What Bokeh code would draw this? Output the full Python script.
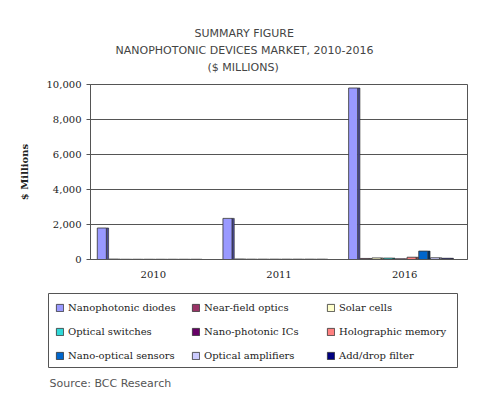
from bokeh.plotting import figure
from bokeh.models import (FactorRange, Legend, LegendItem, Title, Label, SingleIntervalTicker,
                          NumeralTickFormatter, ColumnDataSource, Range1d, BoxAnnotation)
from bokeh.transform import dodge
from bokeh.embed import file_html
from bokeh.resources import INLINE

years = ["2010", "2011", "2016"]
series = ["Nanophotonic diodes", "Near-field optics", "Solar cells",
          "Optical switches", "Nano-photonic ICs", "Holographic memory",
          "Nano-optical sensors", "Optical amplifiers", "Add/drop filter"]
colors = ["#9999FF", "#993366", "#FFFFCC", "#2FD8D8", "#660066", "#FF8080",
          "#0066CC", "#CCCCFF", "#000080"]
sides = ["#4d4d99", "#4d1a33", "#99997a", "#1a7a7a", "#330033", "#994d4d",
         "#003366", "#7a7a99", "#000040"]
values = {
    "Nanophotonic diodes": [1800, 2350, 9800],
    "Near-field optics": [25, 30, 60],
    "Solar cells": [15, 20, 90],
    "Optical switches": [15, 20, 80],
    "Nano-photonic ICs": [15, 20, 40],
    "Holographic memory": [15, 20, 130],
    "Nano-optical sensors": [15, 20, 480],
    "Optical amplifiers": [15, 20, 100],
    "Add/drop filter": [15, 20, 70],
}
title_lines = ["SUMMARY FIGURE", "NANOPHOTONIC DEVICES MARKET, 2010-2016", "($ MILLIONS)"]
title_offsets = [104, 25, 117]
title_standoffs = [4, 0, 5]
source_text = "Source: BCC Research"

p = figure(x_range=FactorRange(*years), y_range=(0, 10000), width=500, height=290,
           output_backend="svg", toolbar_location=None, title=None,
           min_border_left=90, min_border_right=33, min_border_top=84, min_border_bottom=31)
p.background_fill_color = "white"
p.border_fill_color = "white"
p.outline_line_color = "#555555"

src = ColumnDataSource(dict(year=years, **{s: values[s] for s in series}))
step = 0.093
bw = 0.072
for i, s in enumerate(series):
    off = -0.41 + i * step
    p.vbar(x=dodge("year", off + bw / 2 + 0.009, range=p.x_range), top=s, width=0.018,
           source=src, fill_color=sides[i], line_color="#222222", line_width=0.6)
    p.vbar(x=dodge("year", off, range=p.x_range), top=s, width=bw, source=src,
           fill_color=colors[i], line_color="#333333", line_width=0.8)

# spacer title (closest to the frame), then the three heading lines
p.add_layout(Title(text=" ", text_font_size="6px", standoff=0), "above")
n = len(title_lines)
for k in range(n - 1, -1, -1):
    p.add_layout(Title(text=title_lines[k], align="left", offset=title_offsets[k],
                       text_font="DejaVu Sans", text_font_size="11px",
                       text_font_style="normal", text_color="#444444",
                       standoff=title_standoffs[k]), "above")

# axes
p.yaxis.ticker = SingleIntervalTicker(interval=2000)
p.yaxis.formatter = NumeralTickFormatter(format="0,0")
p.yaxis.major_label_text_font = "DejaVu Serif"
p.yaxis.major_label_text_font_size = "10px"
p.yaxis.major_label_text_color = "#222222"
p.yaxis.major_tick_out = 4
p.yaxis.major_tick_in = 0
p.yaxis.minor_tick_out = 0
p.yaxis.minor_tick_in = 0
p.yaxis.major_label_standoff = 5
p.yaxis.axis_line_color = "#555555"
p.yaxis.major_tick_line_color = "#555555"
p.yaxis.axis_label = "$ Millions"
p.yaxis.axis_label_text_font = "DejaVu Serif"
p.yaxis.axis_label_text_font_style = "bold"
p.yaxis.axis_label_text_font_size = "10px"
p.yaxis.axis_label_text_color = "#222222"
p.yaxis.axis_label_standoff = 14

p.xaxis.major_label_text_font = "DejaVu Serif"
p.xaxis.major_label_text_font_size = "10px"
p.xaxis.major_label_text_color = "#222222"
p.xaxis.major_tick_out = 0
p.xaxis.major_tick_in = 0
p.xaxis.major_label_standoff = 11
p.xaxis.axis_line_color = "#555555"

p.xgrid.grid_line_color = None
p.ygrid.grid_line_color = "#555555"
p.ygrid.grid_line_width = 1

# legend figure (pixel-like data coordinates)
q = figure(width=500, height=110, output_backend="svg", toolbar_location=None,
           x_range=Range1d(0, 500), y_range=Range1d(0, 110), x_axis_type=None,
           y_axis_type=None, min_border_left=0, min_border_right=0,
           min_border_top=0, min_border_bottom=0)
q.outline_line_color = None
q.background_fill_color = "white"
q.border_fill_color = "white"
q.xgrid.grid_line_color = None
q.ygrid.grid_line_color = None
q.add_layout(BoxAnnotation(left=48, right=457, bottom=33, top=107, fill_alpha=0,
                           line_color="#555555", line_width=1, line_alpha=1))
offscreen = ColumnDataSource(dict(x=[-1000], top=[-1000]))
renderers = []
for i, s in enumerate(series):
    r = q.vbar(x="x", top="top", width=1, source=offscreen, fill_color=colors[i],
               line_color="#333333", line_width=0.8)
    renderers.append(r)
col_x = [55, 191, 326]
for c in range(3):
    its = [LegendItem(label=series[3 * row + c], renderers=[renderers[3 * row + c]])
           for row in range(3)]
    lg = Legend(items=its, orientation="vertical", location=(col_x[c], 39),
                label_text_font="DejaVu Serif", label_text_font_size="10px",
                label_text_color="#222222", glyph_width=9, glyph_height=9,
                label_height=12, label_standoff=4, spacing=12, padding=0, margin=0,
                border_line_color=None, background_fill_alpha=0)
    q.add_layout(lg, "center")
q.add_layout(Label(x=49, y=17, text=source_text,
                   text_font="DejaVu Sans", text_font_size="11px", text_color="#555555",
                   text_align="left", text_baseline="middle"))

open("out.html", "w").write(file_html([p, q], INLINE))
